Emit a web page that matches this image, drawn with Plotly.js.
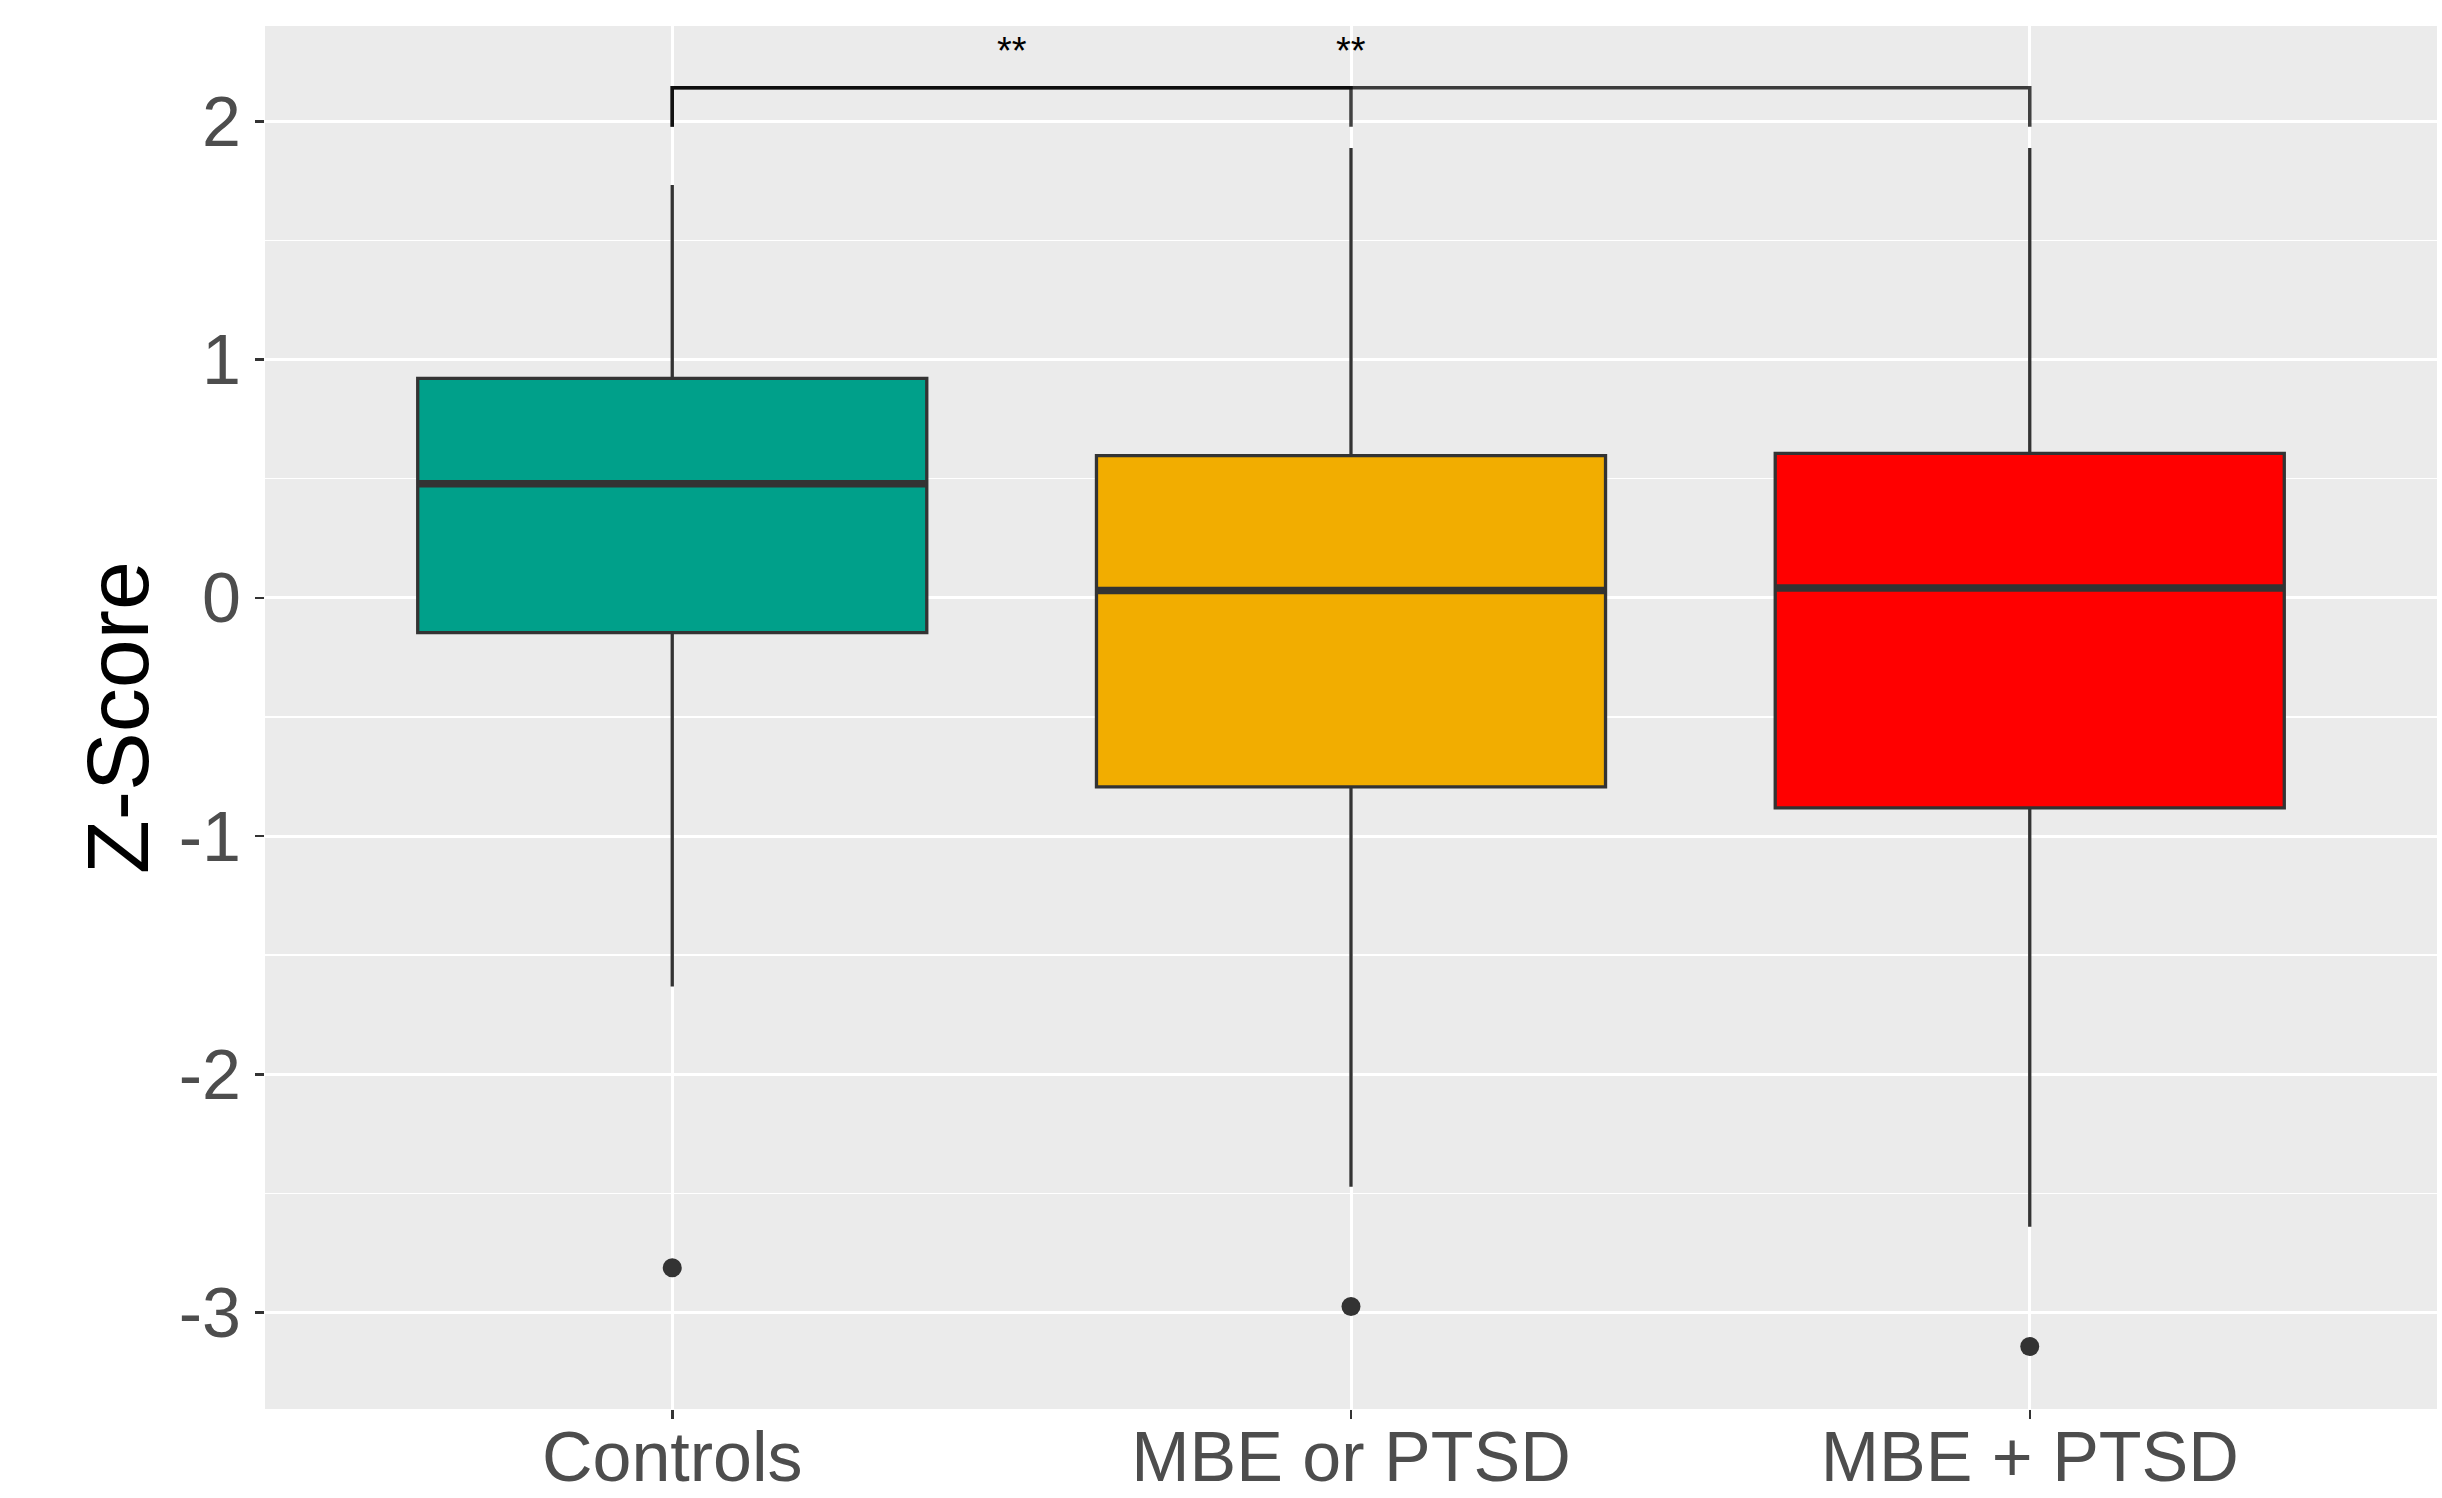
<!DOCTYPE html>
<html>
<head>
<meta charset="utf-8">
<script src="https://cdn.plot.ly/plotly-3.0.1.min.js"></script>
<style>
  html, body { margin: 0; padding: 0; background: #ffffff; }
  #chart { width: 2442px; height: 1498px; }
</style>
</head>
<body>
<div id="chart"></div>
<script>
// ---- Data ----
const categories = ['Controls', 'MBE or PTSD', 'MBE + PTSD'];
const lowerWhisker = [-1.632, -2.472, -2.640];
const q1 = [-0.146, -0.794, -0.882];
const median = [0.479, 0.031, 0.041];
const q3 = [0.921, 0.597, 0.606];
const upperWhisker = [1.733, 1.888, 1.888];
const outliers = [-2.812, -2.975, -3.143];
const fillColors = ['#00A08A', '#F2AD00', '#FF0000'];

// significance brackets (pairs of group indices), their height and labels
const sigPairs = [[0, 1], [0, 2]];
const sigLabels = ['**', '**'];
const sigHeight = 2.141;
const sigTip = 1.977;

const yTickVals = [-3, -2, -1, 0, 1, 2];

// ---- Traces ----
const boxWidth = 0.75;
const traces = [];

categories.forEach((cat, i) => {
  traces.push({
    type: 'box',
    x: [i],
    q1: [q1[i]],
    median: [median[i]],
    q3: [q3[i]],
    lowerfence: [lowerWhisker[i]],
    upperfence: [upperWhisker[i]],
    width: boxWidth,
    fillcolor: fillColors[i],
    line: { color: '#333333', width: 3.3 },
    whiskerwidth: 0,
    boxpoints: false,
    name: cat,
    showlegend: false,
    hoverinfo: 'y'
  });
});

// thicker median lines (ggplot draws the median heavier)
categories.forEach((cat, i) => {
  traces.push({
    type: 'scatter',
    mode: 'lines',
    x: [i - boxWidth / 2, i + boxWidth / 2],
    y: [median[i], median[i]],
    line: { color: '#333333', width: 7.5 },
    showlegend: false,
    hoverinfo: 'skip'
  });
});

// outliers
traces.push({
  type: 'scatter',
  mode: 'markers',
  x: categories.map((c, i) => i),
  y: outliers,
  marker: { color: '#333333', size: 19 },
  showlegend: false,
  hoverinfo: 'y'
});

// significance brackets
sigPairs.forEach((p, k) => {
  traces.push({
    type: 'scatter',
    mode: 'lines',
    x: [p[0], p[0], p[1], p[1]],
    y: [sigTip, sigHeight, sigHeight, sigTip],
    line: { color: 'rgba(0,0,0,0.75)', width: 3.5 },
    showlegend: false,
    hoverinfo: 'skip'
  });
});

const annotations = sigPairs.map((p, k) => ({
  x: (p[0] + p[1]) / 2,
  y: sigHeight,
  xref: 'x',
  yref: 'y',
  text: sigLabels[k],
  showarrow: false,
  yanchor: 'bottom',
  yshift: 14,
  font: { family: 'Liberation Sans, Arial, sans-serif', size: 38, color: '#000000' }
}));

const layout = {
  width: 2442,
  height: 1498,
  margin: { l: 265, r: 5, t: 26, b: 89 },
  paper_bgcolor: '#FFFFFF',
  plot_bgcolor: '#EBEBEB',
  boxmode: 'overlay',
  showlegend: false,
  font: { family: 'Liberation Sans, Arial, sans-serif' },
  xaxis: {
    range: [-0.6, 2.6],
    tickvals: categories.map((c, i) => i),
    ticktext: categories,
    showgrid: true,
    gridcolor: '#FFFFFF',
    gridwidth: 3,
    zeroline: false,
    showline: false,
    ticks: 'outside',
    ticklen: 9,
    tickwidth: 2.5,
    tickcolor: '#333333',
    ticklabelstandoff: -22,
    tickfont: { size: 70, color: '#4D4D4D' },
    fixedrange: true
  },
  yaxis: {
    range: [-3.405, 2.40],
    tickvals: yTickVals,
    ticktext: yTickVals.map(String),
    showgrid: true,
    gridcolor: '#FFFFFF',
    gridwidth: 3,
    minor: { dtick: 0.5, tick0: 0, showgrid: true, gridcolor: '#FFFFFF', gridwidth: 1.5 },
    zeroline: false,
    showline: false,
    ticks: 'outside',
    ticklen: 9,
    tickwidth: 2.5,
    tickcolor: '#333333',
    tickfont: { size: 70, color: '#4D4D4D' },
    title: { text: 'Z-Score', font: { size: 88, color: '#000000' }, standoff: 0 },
    fixedrange: true
  },
  annotations: annotations
};

Plotly.newPlot('chart', traces, layout, { displayModeBar: false, staticPlot: true });
</script>
</body>
</html>
